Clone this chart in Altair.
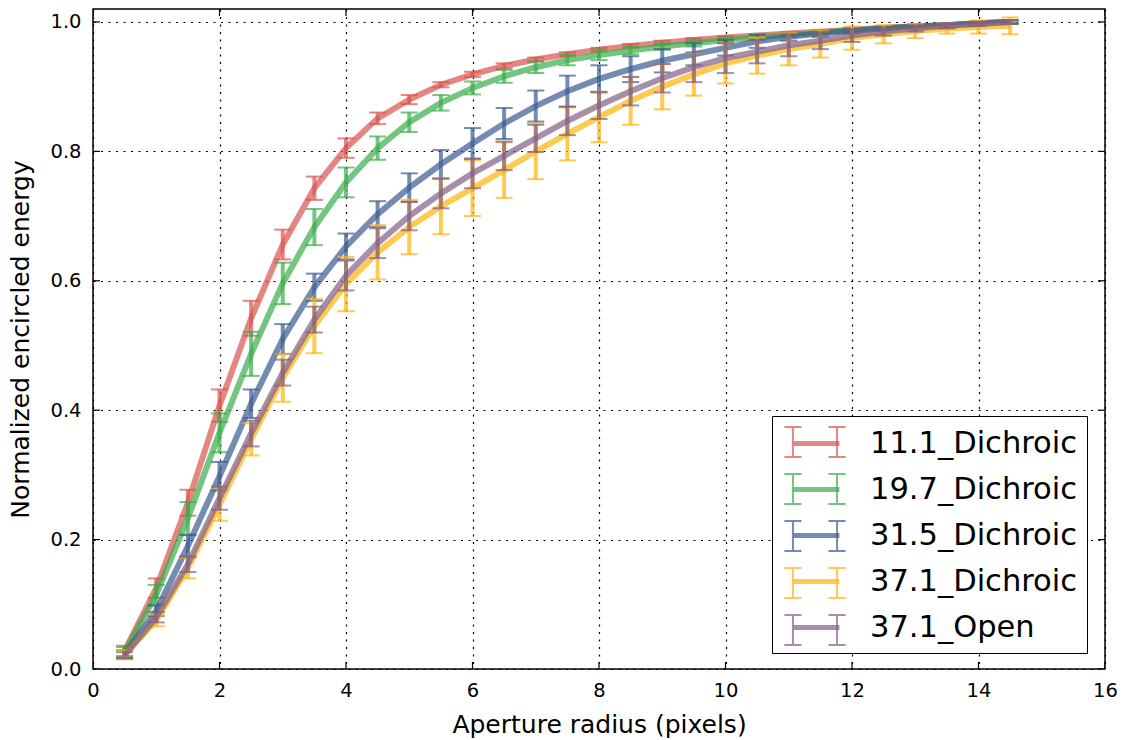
import altair as alt
import pandas as pd

radius = [0.5, 1.0, 1.5, 2.0, 2.5, 3.0, 3.5, 4.0, 4.5, 5.0, 5.5, 6.0, 6.5, 7.0, 7.5,
          8.0, 8.5, 9.0, 9.5, 10.0, 10.5, 11.0, 11.5, 12.0, 12.5, 13.0, 13.5, 14.0, 14.5]

series_names = ["11.1_Dichroic", "19.7_Dichroic", "31.5_Dichroic", "37.1_Dichroic", "37.1_Open"]
series_colors = ["#d9544d", "#39ad48", "#3b5b92", "#feb308", "#825f87"]

ee_111 = [0.028, 0.125, 0.257, 0.407, 0.542, 0.656, 0.743, 0.805, 0.851, 0.880, 0.903, 0.919, 0.932, 0.942, 0.950,
          0.957, 0.963, 0.968, 0.972, 0.976, 0.979, 0.982, 0.985, 0.988, 0.991, 0.993, 0.995, 0.998, 1.000]
err_111 = [0.008, 0.015, 0.020, 0.025, 0.027, 0.023, 0.018, 0.015, 0.009, 0.007, 0.004, 0.004, 0.004, 0.003, 0.003,
           0.003, 0.003, 0.003, 0.003, 0.002, 0.002, 0.002, 0.002, 0.002, 0.002, 0.002, 0.002, 0.002, 0.002]

ee_197 = [0.026, 0.115, 0.233, 0.365, 0.487, 0.596, 0.683, 0.752, 0.805, 0.845, 0.875, 0.898, 0.916, 0.930, 0.941,
          0.949, 0.956, 0.962, 0.967, 0.972, 0.976, 0.980, 0.984, 0.987, 0.990, 0.993, 0.995, 0.998, 1.000]
err_197 = [0.008, 0.015, 0.025, 0.030, 0.034, 0.032, 0.028, 0.023, 0.018, 0.015, 0.012, 0.010, 0.010, 0.009, 0.008,
           0.008, 0.006, 0.005, 0.005, 0.004, 0.004, 0.003, 0.003, 0.003, 0.002, 0.002, 0.002, 0.002, 0.002]

ee_315 = [0.023, 0.090, 0.190, 0.298, 0.410, 0.510, 0.590, 0.653, 0.703, 0.744, 0.780, 0.812, 0.843, 0.870, 0.893,
          0.912, 0.927, 0.940, 0.950, 0.960, 0.970, 0.977, 0.982, 0.986, 0.990, 0.993, 0.995, 0.998, 1.000]
err_315 = [0.006, 0.008, 0.017, 0.022, 0.022, 0.023, 0.021, 0.020, 0.020, 0.022, 0.022, 0.024, 0.024, 0.024, 0.024,
           0.021, 0.020, 0.018, 0.017, 0.012, 0.010, 0.006, 0.005, 0.004, 0.003, 0.003, 0.003, 0.003, 0.003]

ee_371d = [0.022, 0.075, 0.156, 0.254, 0.355, 0.450, 0.530, 0.595, 0.644, 0.683, 0.715, 0.743, 0.771, 0.800, 0.827,
           0.853, 0.878, 0.900, 0.919, 0.936, 0.948, 0.958, 0.966, 0.975, 0.981, 0.986, 0.990, 0.992, 0.994]
err_371d = [0.007, 0.009, 0.016, 0.025, 0.025, 0.037, 0.042, 0.042, 0.042, 0.042, 0.043, 0.043, 0.043, 0.043, 0.041,
            0.039, 0.037, 0.035, 0.033, 0.031, 0.028, 0.025, 0.021, 0.018, 0.014, 0.011, 0.008, 0.010, 0.013]

ee_371o = [0.021, 0.080, 0.162, 0.264, 0.364, 0.458, 0.540, 0.608, 0.658, 0.700, 0.735, 0.766, 0.793, 0.820, 0.847,
           0.871, 0.893, 0.913, 0.930, 0.944, 0.954, 0.964, 0.971, 0.979, 0.985, 0.990, 0.994, 0.997, 1.000]
err_371o = [0.005, 0.008, 0.012, 0.018, 0.020, 0.020, 0.020, 0.023, 0.023, 0.022, 0.023, 0.023, 0.022, 0.021, 0.022,
            0.021, 0.022, 0.022, 0.023, 0.023, 0.018, 0.017, 0.013, 0.010, 0.006, 0.005, 0.004, 0.003, 0.003]

x_ticks = [0, 2, 4, 6, 8, 10, 12, 14, 16]
y_ticks = [0.0, 0.2, 0.4, 0.6, 0.8, 1.0]

values = [ee_111, ee_197, ee_315, ee_371d, ee_371o]
errors = [err_111, err_197, err_315, err_371d, err_371o]

rows = []
for name, ys, es in zip(series_names, values, errors):
    for r, v, e in zip(radius, ys, es):
        rows.append({"series": name, "r": r, "ee": v, "err": e})
df = pd.DataFrame(rows)

FONT = "DejaVu Sans"
XDOM = [0, 16]
YDOM = [0, 1.02]

xenc = alt.X("r:Q", scale=alt.Scale(domain=XDOM, nice=False, zero=False),
             axis=alt.Axis(values=x_ticks, format="d", title="Aperture radius (pixels)"))
yenc = alt.Y("ee:Q", scale=alt.Scale(domain=YDOM, nice=False),
             axis=alt.Axis(values=y_ticks, format=".1f", title="Normalized encircled energy"))

legend_common = dict(
    orient="none", legendX=679, legendY=407, title=None,
    labelFont=FONT, labelFontSize=30.5, labelColor="black", labelLimit=400,
    symbolSize=900, symbolOffset=17, labelOffset=36,
    padding=10, symbolOpacity=0.7,
    symbolFillColor="transparent",
)

line_legend = alt.Legend(symbolType="M-1.53,0L1.53,0", symbolStrokeWidth=5, rowPadding=13,
                         strokeColor="black", fillColor="white", **legend_common)
bar_legend = alt.Legend(
    symbolType=("M-1.47,-1L-1.47,1M1.47,-1L1.47,1"
                "M-2.04,-1L-0.9,-1M-2.04,1L-0.9,1"
                "M0.9,-1L2.04,-1M0.9,1L2.04,1"),
    symbolStrokeWidth=2, rowPadding=9, labelExpr="''", **legend_common)

cscale = alt.Scale(domain=series_names, range=series_colors)
# separate (suffixed) domain so the error-bar legend is not merged into the line legend
bar_names = [n + "|" for n in series_names]
bscale = alt.Scale(domain=bar_names, range=series_colors)

layers = []
for name in series_names:
    base = alt.Chart(df).transform_filter(alt.datum.series == name).transform_calculate(
        lo="datum.ee - datum.err", hi="datum.ee + datum.err", group="datum.series + '|'")
    line = base.mark_line(strokeWidth=6, opacity=0.7).encode(
        x=xenc, y=yenc, color=alt.Color("series:N", scale=cscale, legend=line_legend))
    bars = base.mark_rule(strokeWidth=4, opacity=0.7).encode(
        x="r:Q", y="lo:Q", y2="hi:Q",
        stroke=alt.Stroke("group:N", scale=bscale, legend=bar_legend))
    cap_lo = base.mark_tick(orient="horizontal", size=17, thickness=2, opacity=0.7).encode(
        x="r:Q", y="lo:Q", fill=alt.Fill("group:N", scale=bscale, legend=None))
    cap_hi = base.mark_tick(orient="horizontal", size=17, thickness=2, opacity=0.7).encode(
        x="r:Q", y="hi:Q", fill=alt.Fill("group:N", scale=bscale, legend=None))
    layers += [line, bars, cap_lo, cap_hi]

# inward tick marks on all four sides (clipped half inside the frame)
xt = pd.DataFrame({"r": x_ticks})
yt = pd.DataFrame({"ee": y_ticks})
tick_style = dict(size=14, thickness=1.2, color="black", clip=True, opacity=1)
bottom_ticks = alt.Chart(xt).mark_tick(orient="vertical", **tick_style).encode(
    x="r:Q", y=alt.datum(YDOM[0]))
top_ticks = alt.Chart(xt).mark_tick(orient="vertical", **tick_style).encode(
    x="r:Q", y=alt.datum(YDOM[1]))
left_ticks = alt.Chart(yt).mark_tick(orient="horizontal", **tick_style).encode(
    y="ee:Q", x=alt.datum(XDOM[0]))
right_ticks = alt.Chart(yt).mark_tick(orient="horizontal", **tick_style).encode(
    y="ee:Q", x=alt.datum(XDOM[1]))

chart = alt.layer(*layers, bottom_ticks, top_ticks, left_ticks, right_ticks).resolve_scale(
    color="shared", stroke="shared", fill="shared"
).properties(
    width=1012, height=660,
    autosize=alt.AutoSizeParams(type="none"),
    padding={"left": 93, "top": 9, "right": 18, "bottom": 71},
    background="white",
).configure_view(
    stroke="black", strokeWidth=1.5
).configure_axis(
    domain=False, ticks=False, grid=True, gridColor="black", gridDash=[2, 5.5], gridWidth=1.2,
    gridOpacity=1, labelFont=FONT, labelFontSize=19.5, labelColor="black", labelPadding=12,
    labelFlush=False,
    titleFont=FONT, titleFontSize=25, titleFontWeight="normal", titleColor="black", zindex=1,
).configure_axisX(titlePadding=13).configure_axisY(titlePadding=16)

chart.save("out.html", embed_options={"renderer": "svg", "actions": False})
